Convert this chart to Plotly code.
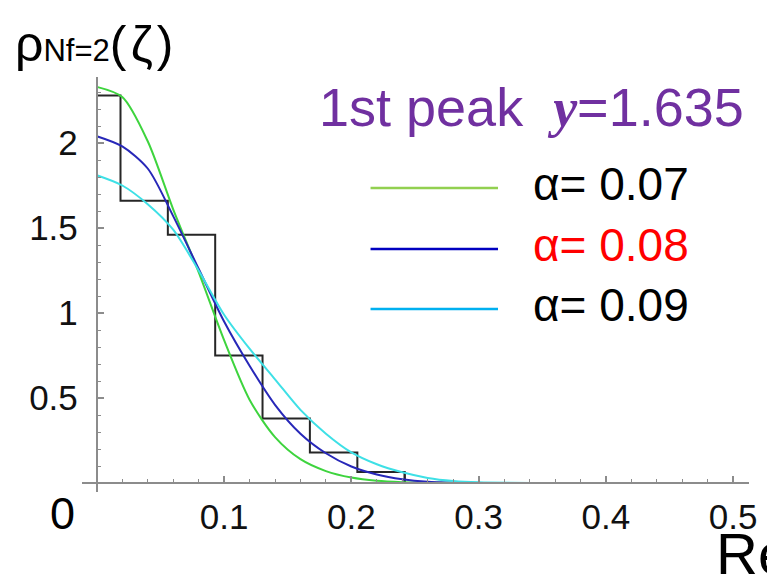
import plotly.graph_objects as go

# Eigenvalue density: real-part grid and model curves for three alpha values
re_grid = [0.00, 0.02, 0.04, 0.06, 0.08, 0.10, 0.12, 0.14, 0.16, 0.18,
           0.20, 0.22, 0.24, 0.26, 0.28, 0.30, 0.35, 0.40, 0.45, 0.50]
rho_a007 = [2.33, 2.27, 2.01, 1.61, 1.24, 0.84, 0.49, 0.27, 0.14, 0.07,
            0.032, 0.013, 0.005, 0.002, 0.0, 0.0, 0.0, 0.0, 0.0, 0.0]
rho_a008 = [2.04, 1.98, 1.85, 1.57, 1.26, 0.95, 0.69, 0.46, 0.29, 0.175,
            0.097, 0.050, 0.022, 0.007, 0.002, 0.0, 0.0, 0.0, 0.0, 0.0]
rho_a009 = [1.81, 1.75, 1.64, 1.49, 1.25, 0.99, 0.79, 0.61, 0.43, 0.29,
            0.18, 0.11, 0.063, 0.030, 0.012, 0.004, 0.0, 0.0, 0.0, 0.0]

# Lattice histogram (bin edges and heights)
bin_edges = [0.0, 0.0186, 0.0558, 0.0930, 0.1302, 0.1674, 0.2047, 0.2419]
bin_heights = [2.28, 1.66, 1.46, 0.75, 0.38, 0.18, 0.065]

x_ticks = [0.1, 0.2, 0.3, 0.4, 0.5]
x_tick_text = ["0.1", "0.2", "0.3", "0.4", "0.5"]
y_ticks = [0.5, 1.0, 1.5, 2.0]
y_tick_text = ["0.5", "1", "1.5", "2"]

legend_labels = ["α= 0.07", "α= 0.08", "α= 0.09"]
legend_text_colors = ["#000000", "#ff0000", "#000000"]
legend_line_colors = ["#92d050", "#0000c0", "#00b0f0"]
curve_colors = ["#3ed43e", "#2727b8", "#3ee0e6"]

W, H = 767, 588
L, R, T, B = 82, 757, 77, 492  # plot area in pixels

def px_x(px):
    return (px - L) / (R - L)

def px_y(py):
    return (B - py) / (B - T)

# axis ranges so that x=0 sits at px 97 and y=0 at px 483
px_per_x = 1288.0
px_per_y = 170.0
x_range = [-(97 - L) / px_per_x, 0.5 + (R - 741) / px_per_x]
y_range = [-(B - 483) / px_per_y, (483 - T) / px_per_y]

fig = go.Figure()

# histogram outline
hist_x = list(bin_edges)
hist_y = list(bin_heights) + [0.0]
fig.add_trace(go.Scatter(
    x=hist_x, y=hist_y, mode="lines",
    line=dict(color="#262626", width=2, shape="hv"),
    showlegend=False, hoverinfo="skip"))
# drop line at the right end of the histogram
fig.add_trace(go.Scatter(
    x=[bin_edges[-1], bin_edges[-1]], y=[bin_heights[-1], 0.0], mode="lines",
    line=dict(color="#262626", width=2),
    showlegend=False, hoverinfo="skip"))

for ys, col in zip([rho_a007, rho_a008, rho_a009], curve_colors):
    fig.add_trace(go.Scatter(
        x=re_grid, y=ys, mode="lines",
        line=dict(color=col, width=2, shape="spline", smoothing=0.8),
        showlegend=False, hoverinfo="skip"))

axis_gray = "#8c8c8c"
tick_font = dict(family="Liberation Sans, Arial, sans-serif", size=35, color="#111111")

fig.update_layout(
    width=W, height=H,
    margin=dict(l=L, r=W - R, t=T, b=H - B, pad=0),
    paper_bgcolor="white", plot_bgcolor="white",
    xaxis=dict(
        range=x_range, domain=[0, 1], anchor="free", position=px_y(483),
        showgrid=False, zeroline=False,
        showline=True, linecolor=axis_gray, linewidth=2,
        tickmode="array", tickvals=x_ticks, ticktext=x_tick_text,
        ticks="inside", ticklen=6, tickwidth=1.5, tickcolor=axis_gray,
        minor=dict(dtick=0.02, tick0=0, ticks="inside", ticklen=3,
                   tickwidth=1, tickcolor=axis_gray),
        tickfont=tick_font, ticklabelstandoff=3,
    ),
    yaxis=dict(
        range=y_range, domain=[0, 1], anchor="free", position=px_x(97),
        showgrid=False, zeroline=False,
        showline=True, linecolor=axis_gray, linewidth=2,
        tickmode="array", tickvals=y_ticks, ticktext=y_tick_text,
        ticks="inside", ticklen=6, tickwidth=1.5, tickcolor=axis_gray,
        minor=dict(dtick=0.1, tick0=0, ticks="inside", ticklen=3,
                   tickwidth=1, tickcolor=axis_gray),
        tickfont=tick_font, ticklabelstandoff=11,
    ),
)

sans = "Liberation Sans, Arial, sans-serif"
annotations = []

# density label at top-left
annotations.append(dict(
    xref="paper", yref="paper", x=px_x(12), y=px_y(44),
    xanchor="left", yanchor="middle", showarrow=False,
    text="<span style='font-size:50px'>ρ</span>"
         "<span style='font-size:31px'>Nf=2</span>"
         "<span style='font-size:50px'>(\u200aζ\u200a)</span>",
    font=dict(family=sans, size=50, color="black")))

# peak label
annotations.append(dict(
    xref="paper", yref="paper", x=px_x(320), y=px_y(107),
    xanchor="left", yanchor="middle", showarrow=False,
    text="1st peak  <span style='font-family:Liberation Serif'><b><i>y</i></b></span>=1.635",
    font=dict(family=sans, size=54, color="#7030a0")))

# legend rows
legend_rows_y = [188, 249, 309]
shapes = []
for lab, tcol, lcol, ry in zip(legend_labels, legend_text_colors,
                               legend_line_colors, legend_rows_y):
    shapes.append(dict(type="line", xref="paper", yref="paper",
                       x0=px_x(374), x1=px_x(503), y0=px_y(ry), y1=px_y(ry),
                       line=dict(color=lcol, width=2.5)))
    annotations.append(dict(
        xref="paper", yref="paper", x=px_x(536), y=px_y(ry - 4),
        xanchor="left", yanchor="middle", showarrow=False,
        text=lab, font=dict(family=sans, size=46, color=tcol)))

# origin label
annotations.append(dict(
    xref="paper", yref="paper", x=px_x(62), y=px_y(513),
    xanchor="center", yanchor="middle", showarrow=False,
    text="0", font=dict(family=sans, size=45, color="black")))

# horizontal axis title (runs off the right edge)
annotations.append(dict(
    xref="paper", yref="paper", x=px_x(722), y=px_y(553),
    xanchor="left", yanchor="middle", showarrow=False,
    text="Re", font=dict(family=sans, size=58, color="black")))

fig.update_layout(annotations=annotations, shapes=shapes)

fig.write_html("out.html")
